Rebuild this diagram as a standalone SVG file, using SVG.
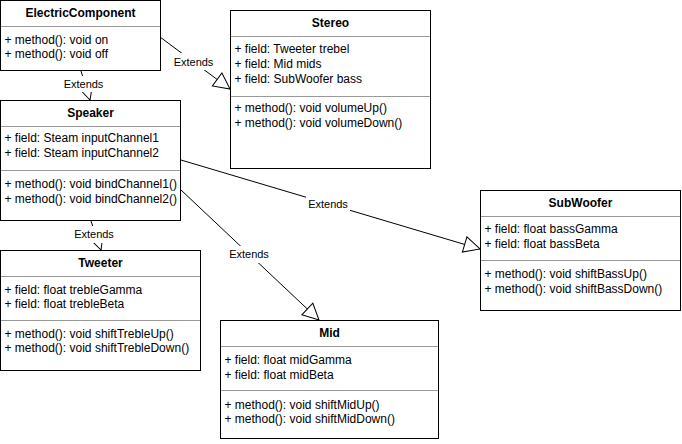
<svg xmlns="http://www.w3.org/2000/svg" width="682" height="444" viewBox="0 0 682 444">
<style>
.box{fill:#fff;stroke:#000;stroke-width:1}
.sep{stroke:#999;stroke-width:1}
.t{font-family:"Liberation Sans",Arial,Helvetica,sans-serif;font-size:12px;fill:#000}
.h{font-weight:bold;text-anchor:middle}
.c{fill:none;stroke:#000;stroke-width:1}
.lbg{fill:#fff;stroke:none}
.lb{font-family:"Liberation Sans",Arial,Helvetica,sans-serif;font-size:11px;fill:#000;text-anchor:middle}
</style>
<defs>
<marker id="tri" markerUnits="userSpaceOnUse" markerWidth="19" markerHeight="19" viewBox="0 0 19 19" refX="17" refY="9.5" orient="auto">
<path d="M1,1.5 L17,9.5 L1,17.5 Z" fill="#fff" stroke="#000" stroke-width="1"/>
</marker>
</defs>
<rect width="682" height="444" fill="#fff"/>
<g id="connectors">
<path class="c" d="M160,37 L230,89" marker-end="url(#tri)"/>
<path class="c" d="M81,71 L90,100" marker-end="url(#tri)"/>
<path class="c" d="M91,221 L101,250" marker-end="url(#tri)"/>
<path class="c" d="M181,160 L480,249" marker-end="url(#tri)"/>
<path class="c" d="M181,190 L319,320" marker-end="url(#tri)"/>
<rect class="lbg" x="172" y="53" width="43" height="17"/>
<text class="lb" x="193.5" y="65.5">Extends</text>
<rect class="lbg" x="62" y="76" width="43" height="16"/>
<text class="lb" x="83.5" y="88">Extends</text>
<rect class="lbg" x="72" y="226" width="43" height="17"/>
<text class="lb" x="94" y="238">Extends</text>
<rect class="lbg" x="306" y="196" width="44" height="17"/>
<text class="lb" x="328" y="208">Extends</text>
<rect class="lbg" x="227" y="246" width="44" height="17"/>
<text class="lb" x="249" y="258">Extends</text>
</g>
<g id="ElectricComponent">
<rect class="box" x="0.5" y="0.5" width="160" height="70"/>
<line class="sep" x1="1" y1="26.5" x2="160" y2="26.5"/>
<text class="t h" x="80.5" y="17">ElectricComponent</text>
<text class="t" x="4.5" y="44">+ method(): void on</text>
<text class="t" x="4.5" y="58">+ method(): void off</text>
</g>
<g id="Speaker">
<rect class="box" x="0.5" y="100.5" width="180" height="120"/>
<line class="sep" x1="1" y1="126.5" x2="180" y2="126.5"/>
<line class="sep" x1="1" y1="170.5" x2="180" y2="170.5"/>
<text class="t h" x="90.5" y="117">Speaker</text>
<text class="t" x="4.5" y="142">+ field: Steam inputChannel1</text>
<text class="t" x="4.5" y="157">+ field: Steam inputChannel2</text>
<text class="t" x="4.5" y="188">+ method(): void bindChannel1()</text>
<text class="t" x="4.5" y="203">+ method(): void bindChannel2()</text>
</g>
<g id="Tweeter">
<rect class="box" x="0.5" y="250.5" width="200" height="120"/>
<line class="sep" x1="1" y1="276.5" x2="200" y2="276.5"/>
<line class="sep" x1="1" y1="320.5" x2="200" y2="320.5"/>
<text class="t h" x="100.5" y="267">Tweeter</text>
<text class="t" x="4.5" y="294">+ field: float trebleGamma</text>
<text class="t" x="4.5" y="308">+ field: float trebleBeta</text>
<text class="t" x="4.5" y="337.5">+ method(): void shiftTrebleUp()</text>
<text class="t" x="4.5" y="351.5">+ method(): void shiftTrebleDown()</text>
</g>
<g id="Stereo">
<rect class="box" x="230.5" y="10.5" width="200" height="158"/>
<line class="sep" x1="231" y1="36.5" x2="430" y2="36.5"/>
<line class="sep" x1="231" y1="96.5" x2="430" y2="96.5"/>
<text class="t h" x="330.5" y="27">Stereo</text>
<text class="t" x="234.5" y="53">+ field: Tweeter trebel</text>
<text class="t" x="234.5" y="68">+ field: Mid mids</text>
<text class="t" x="234.5" y="83">+ field: SubWoofer bass</text>
<text class="t" x="234.5" y="112">+ method(): void volumeUp()</text>
<text class="t" x="234.5" y="127">+ method(): void volumeDown()</text>
</g>
<g id="SubWoofer">
<rect class="box" x="480.5" y="190.5" width="200" height="120"/>
<line class="sep" x1="481" y1="216.5" x2="680" y2="216.5"/>
<line class="sep" x1="481" y1="260.5" x2="680" y2="260.5"/>
<text class="t h" x="580.5" y="207">SubWoofer</text>
<text class="t" x="484.5" y="233">+ field: float bassGamma</text>
<text class="t" x="484.5" y="248">+ field: float bassBeta</text>
<text class="t" x="484.5" y="277.5">+ method(): void shiftBassUp()</text>
<text class="t" x="484.5" y="292.5">+ method(): void shiftBassDown()</text>
</g>
<g id="Mid">
<rect class="box" x="220.5" y="320.5" width="218" height="118"/>
<line class="sep" x1="221" y1="346.5" x2="438" y2="346.5"/>
<line class="sep" x1="221" y1="390.5" x2="438" y2="390.5"/>
<text class="t h" x="329.5" y="337">Mid</text>
<text class="t" x="224.5" y="364">+ field: float midGamma</text>
<text class="t" x="224.5" y="378.5">+ field: float midBeta</text>
<text class="t" x="224.5" y="408.5">+ method(): void shiftMidUp()</text>
<text class="t" x="224.5" y="422.5">+ method(): void shiftMidDown()</text>
</g>
</svg>
